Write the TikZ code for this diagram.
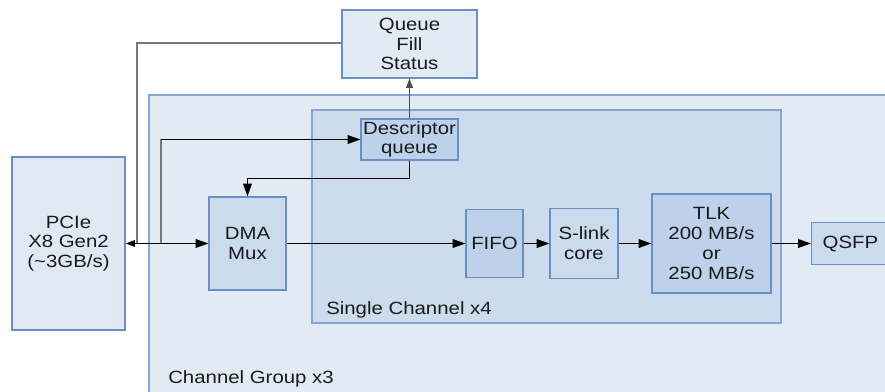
\documentclass[tikz,border=0pt]{standalone}
\usepackage{fontspec}
\setmainfont[FakeStretch=1.15]{Liberation Sans}
\usetikzlibrary{arrows.meta}
\definecolor{outerfill}{HTML}{E2EAF4}
\definecolor{outerbord}{HTML}{88A6D1}
\definecolor{singlefill}{HTML}{CCDCEC}
\definecolor{bord}{HTML}{6A8FC5}
\definecolor{fillA}{HTML}{DFE8F3}
\definecolor{fillB}{HTML}{CADBEE}
\definecolor{fillC}{HTML}{BDD2EA}
\definecolor{txt}{HTML}{1A1A1A}
\definecolor{wire}{HTML}{7A7A7A}
\tikzset{
  blk/.style={draw=bord, line width=0.9pt, inner sep=0pt, align=center,
    text=txt, font=\fontsize{13.3pt}{14.8pt}\selectfont},
  lbl/.style={inner sep=0pt, anchor=west, text=txt, font=\fontsize{13.3pt}{14.8pt}\selectfont},
  conn/.style={draw=black, line width=0.9pt},
  gconn/.style={draw=wire, line width=1.3pt},
  bigtip/.style={-{Triangle[length=9.5pt,width=6.5pt]}},
  smalltip/.style={-{Triangle[length=7pt,width=5pt]}}
}
\begin{document}
\begin{tikzpicture}[x=0.75pt,y=-0.75pt]
\useasboundingbox (0,0) rectangle (885,392);
\fill[white] (0,0) rectangle (885,392);
% containers
\draw[fill=outerfill, draw=outerbord, line width=1pt] (149,95) rectangle (900,410);
\draw[fill=singlefill, draw=outerbord, line width=1pt] (312,110) rectangle (781,323);
\node[lbl] (singlelbl) at (326,310) {Single Channel x4};
\node[lbl] (grouplbl) at (168,379) {Channel Group x3};
% blocks
\node[blk, fill=fillA, minimum width=84.75pt, minimum height=129.75pt] (pcie) at (68.5,243.5) {PCIe\\X8 Gen2\\(\textasciitilde3GB/s)};
\node[blk, fill=outerfill, minimum width=101.25pt, minimum height=51pt] (qfs) at (409.5,44) {Queue\\Fill\\Status};
\node[blk, fill=fillC, minimum width=72.75pt, minimum height=30.75pt] (desc) at (409.5,139.5) {Descriptor\\queue};
\node[blk, fill=fillB, minimum width=57.75pt, minimum height=69.75pt] (dma) at (247.5,243.5) {DMA\\Mux};
\node[blk, fill=fillC, minimum width=42.75pt, minimum height=51pt] (fifo) at (494.5,243.5) {FIFO};
\node[blk, fill=fillB, minimum width=51pt, minimum height=52.5pt] (slink) at (584,243.5) {S-link\\core};
\node[blk, fill=fillC, minimum width=89.25pt, minimum height=74.25pt] (tlk) at (711.5,243.5) {TLK\\200 MB/s\\or\\250 MB/s};
\node[blk, fill=fillB, minimum width=58.5pt, minimum height=31.5pt] (qsfp) at (850.5,243.5) {QSFP};
% junction coordinates
\coordinate (jA) at (137,243.5);
\coordinate (jB) at (161,243.5);
\coordinate (qfsCorner) at (137,43);
\coordinate (descUp) at (161,139.5);
% connectors
\draw[gconn] (qfs.west |- qfsCorner) -- (qfsCorner) -- (jA);
\draw[gconn] (jB) -- (descUp);
\draw[conn, bigtip] (descUp) -- (desc.west);
\draw[conn, {Triangle[length=7pt,width=5pt]}-{Triangle[length=9.5pt,width=6.5pt]}] (pcie.east) -- (dma.west);
\draw[conn, bigtip] (desc.south) -- ++(0,18) -| (dma.north);
\draw[gconn, smalltip, draw=black!70] (desc.north) -- (qfs.south);
\draw[conn, bigtip] (dma.east) -- (fifo.west);
\draw[conn, bigtip] (fifo.east) -- (slink.west);
\draw[conn, bigtip] (slink.east) -- (tlk.west);
\draw[conn, bigtip] (tlk.east) -- (qsfp.west);
\end{tikzpicture}
\end{document}
